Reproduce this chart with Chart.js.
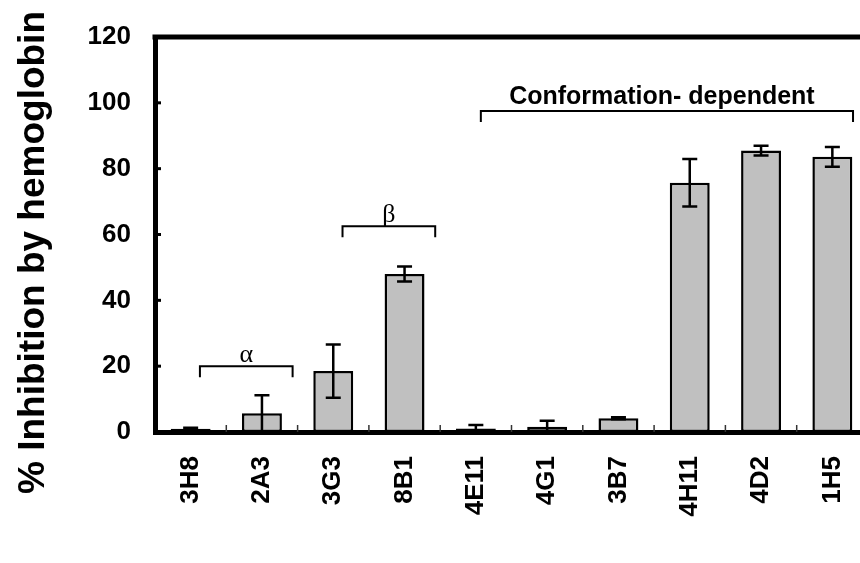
<!DOCTYPE html>
<html>
<head>
<meta charset="utf-8">
<script src="https://cdn.jsdelivr.net/npm/chart.js@4.4.1/dist/chart.umd.min.js"></script>
<style>
  html, body { margin: 0; padding: 0; background: #fff; overflow: hidden; }
  /* the original plot runs a few pixels past the right edge */
  #wrap { width: 860px; height: 563px; overflow: hidden; }
</style>
</head>
<body>
<div id="wrap"><canvas id="chart" width="868" height="563"></canvas></div>
<script>
// antibodies on the x axis
const antibodies = ['3H8', '2A3', '3G3', '8B1', '4E11', '4G1', '3B7', '4H11', '4D2', '1H5'];
// % inhibition and its error
const inhibition = [1.0, 5.7, 18.5, 48.0, 1.1, 1.6, 4.2, 75.7, 85.5, 83.6];
const inhibitionErr = [0.3, 5.5, 8.1, 2.3, 1.0, 1.8, 0.3, 7.2, 1.5, 3.0];
const yTicks = [0, 20, 40, 60, 80, 100, 120];
const yTitle = '% Inhibition by hemoglobin';

// group brackets above the bars
const groupLabels = ['α', 'β', 'Conformation- dependent'];
const groupFirst = ['3H8', '3G3', '4E11'];
const groupLast = ['2A3', '8B1', '1H5'];
const groupLevel = [20, 62.5, 97.5];

Chart.defaults.font.family = "'Liberation Sans', Arial, sans-serif";
Chart.defaults.color = '#000';

// error bars drawn on top of the bars
const errorBars = {
  id: 'errorBars',
  afterDatasetsDraw(chart) {
    const ctx = chart.ctx;
    const y = chart.scales.y;
    const meta = chart.getDatasetMeta(0);
    ctx.save();
    ctx.strokeStyle = '#000';
    ctx.lineWidth = 2.5;
    meta.data.forEach((bar, i) => {
      const top = y.getPixelForValue(inhibition[i] + inhibitionErr[i]);
      const bot = y.getPixelForValue(Math.max(0, inhibition[i] - inhibitionErr[i]));
      ctx.beginPath();
      ctx.moveTo(bar.x, top); ctx.lineTo(bar.x, bot);
      ctx.moveTo(bar.x - 7.5, top); ctx.lineTo(bar.x + 7.5, top);
      ctx.moveTo(bar.x - 7.5, bot); ctx.lineTo(bar.x + 7.5, bot);
      ctx.stroke();
    });
    ctx.restore();
  }
};

// top frame line, inward tick marks, y title and the group brackets
const frameAndBrackets = {
  id: 'frameAndBrackets',
  afterDraw(chart) {
    const ctx = chart.ctx;
    const area = chart.chartArea;
    const x = chart.scales.x;
    const y = chart.scales.y;
    ctx.save();
    ctx.strokeStyle = '#000';

    // top frame
    ctx.lineWidth = 5;
    ctx.beginPath();
    ctx.moveTo(area.left - 2.5, area.top);
    ctx.lineTo(area.right, area.top);
    ctx.stroke();

    // y ticks pointing inside
    ctx.lineWidth = 3;
    yTicks.forEach(v => {
      const py = y.getPixelForValue(v);
      ctx.beginPath();
      ctx.moveTo(area.left, py);
      ctx.lineTo(area.left + 6, py);
      ctx.stroke();
    });

    // x ticks between categories
    ctx.lineWidth = 1.5;
    ctx.strokeStyle = '#333';
    for (let i = 0; i < antibodies.length - 1; i++) {
      const bx = (x.getPixelForValue(i) + x.getPixelForValue(i + 1)) / 2;
      ctx.beginPath();
      ctx.moveTo(bx, area.bottom);
      ctx.lineTo(bx, area.bottom - 7);
      ctx.stroke();
    }

    // y axis title (sits a bit below the axis middle in the original)
    ctx.fillStyle = '#000';
    ctx.save();
    ctx.translate(34, (area.top + area.bottom) / 2 + 18);
    ctx.rotate(-Math.PI / 2);
    ctx.textAlign = 'center';
    ctx.textBaseline = 'middle';
    ctx.font = "bold 37px 'Liberation Sans', Arial, sans-serif";
    ctx.fillText(yTitle, 0, 0);
    ctx.restore();

    // brackets: start a little right of the first bar, end right of the last one
    ctx.strokeStyle = '#000';
    ctx.lineWidth = 2;
    ctx.textAlign = 'center';
    ctx.textBaseline = 'alphabetic';
    const step = x.getPixelForValue(1) - x.getPixelForValue(0);
    groupLabels.forEach((label, g) => {
      const wide = label.length > 1;
      const x0 = x.getPixelForValue(antibodies.indexOf(groupFirst[g])) + step * (wide ? 0.07 : 0.13);
      const x1 = x.getPixelForValue(antibodies.indexOf(groupLast[g])) + step * (wide ? 0.29 : 0.43);
      const py = y.getPixelForValue(groupLevel[g]);
      ctx.beginPath();
      ctx.moveTo(x0, py + 11);
      ctx.lineTo(x0, py);
      ctx.lineTo(x1, py);
      ctx.lineTo(x1, py + 11);
      ctx.stroke();
      if (wide) {
        ctx.font = "bold 25px 'Liberation Sans', Arial, sans-serif";
        ctx.fillText(label, (x0 + x1) / 2 - 5, py - 7);
      } else {
        ctx.font = "26px 'Liberation Serif', 'Times New Roman', serif";
        ctx.fillText(label, (x0 + x1) / 2, py - 4);
      }
    });
    ctx.restore();
  }
};

new Chart(document.getElementById('chart'), {
  type: 'bar',
  data: {
    labels: antibodies,
    datasets: [{
      data: inhibition,
      backgroundColor: '#c0c0c0',
      borderColor: '#000',
      borderWidth: 2.5,
      borderSkipped: false,
      categoryPercentage: 1,
      barPercentage: 0.56
    }]
  },
  options: {
    responsive: false,
    animation: false,
    layout: { padding: { top: 37, right: 0, bottom: 0, left: 0 } },
    plugins: {
      legend: { display: false },
      tooltip: { enabled: false }
    },
    scales: {
      x: {
        grid: { display: false, drawTicks: false },
        border: { display: true, color: '#000', width: 5 },
        ticks: {
          autoSkip: false,
          minRotation: 90,
          maxRotation: 90,
          padding: 24,
          font: { size: 26, weight: 'bold' }
        },
        afterFit(scale) {
          scale.height = 131;
          scale.paddingLeft = 0;
          scale.paddingRight = 0;
        }
      },
      y: {
        min: 0,
        max: 120,
        grid: { display: false, drawTicks: false },
        border: { display: true, color: '#000', width: 5 },
        ticks: {
          stepSize: 20,
          padding: 24,
          font: { size: 26, weight: 'bold' }
        },
        afterFit(scale) {
          scale.width = 155;
          scale.paddingTop = 0;
          scale.paddingBottom = 0;
        }
      }
    }
  },
  plugins: [errorBars, frameAndBrackets]
});
</script>
</body>
</html>
